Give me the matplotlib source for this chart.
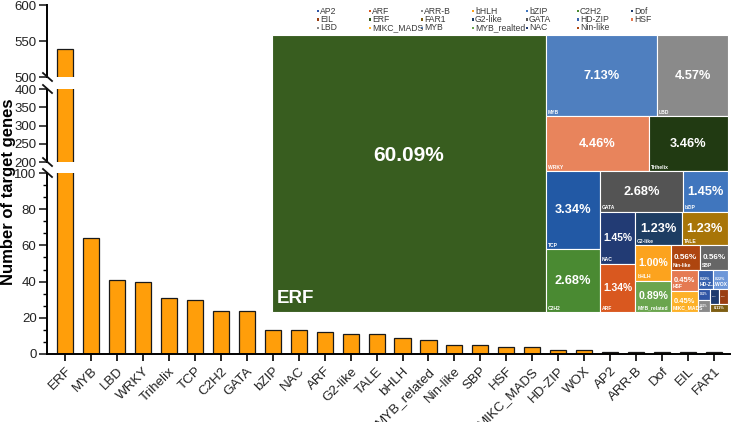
import matplotlib.pyplot as plt
import numpy as np
from matplotlib.patches import Rectangle
from matplotlib.lines import Line2D
from matplotlib.ticker import MultipleLocator, AutoMinorLocator

plt.rcParams['font.family'] = ['Liberation Sans', 'DejaVu Sans']

# --- data ---
families = ['ERF', 'MYB', 'LBD', 'WRKY', 'Trihelix', 'TCP', 'C2H2', 'GATA', 'bZIP',
            'NAC', 'ARF', 'G2-like', 'TALE', 'bHLH', 'MYB_related', 'Nin-like', 'SBP',
            'HSF', 'MIKC_MADS', 'HD-ZIP', 'WOX', 'AP2', 'ARR-B', 'Dof', 'EIL', 'FAR1']
gene_counts = [539, 64, 41, 40, 31, 30, 24, 24, 13, 13, 12, 11, 11, 9, 8, 5, 5,
               4, 4, 2, 2, 1, 1, 1, 1, 1]

tree_colors = {
    'ERF': '#385D1F', 'MYB': '#4F7FBF', 'LBD': '#8A8A8A', 'WRKY': '#E8845C',
    'Trihelix': '#213A12', 'TCP': '#2259A5', 'C2H2': '#4A8A32', 'GATA': '#545454',
    'bZIP': '#4076BE', 'NAC': '#223B74', 'ARF': '#D9581F', 'G2-like': '#1D3D63',
    'TALE': '#A87508', 'bHLH': '#FCA31E', 'MYB_related': '#6AA54E', 'Nin-like': '#AE450F',
    'SBP': '#666666', 'HSF': '#E57A52', 'MIKC_MADS': '#FDB128', 'HD-ZIP': '#3862AE',
    'WOX': '#6C96D8', 'AP2': '#2F55A5', 'ARR-B': '#8A8A8A', 'Dof': '#1E3B6E',
    'EIL': '#9A3E12', 'FAR1': '#7D5E12'}

legend_names = ['AP2', 'ARF', 'ARR-B', 'bHLH', 'bZIP', 'C2H2', 'Dof',
                'EIL', 'ERF', 'FAR1', 'G2-like', 'GATA', 'HD-ZIP', 'HSF',
                'LBD', 'MIKC_MADS', 'MYB', 'MYB_realted', 'NAC', 'Nin-like']
legend_keys = ['AP2', 'ARF', 'ARR-B', 'bHLH', 'bZIP', 'C2H2', 'Dof',
               'EIL', 'ERF', 'FAR1', 'G2-like', 'GATA', 'HD-ZIP', 'HSF',
               'LBD', 'MIKC_MADS', 'MYB', 'MYB_related', 'NAC', 'Nin-like']

W, H = 734, 422
fig = plt.figure(figsize=(W / 100, H / 100), dpi=100)


def px_axes(x0, y0, x1, y1):
    return fig.add_axes([x0 / W, 1 - y1 / H, (x1 - x0) / W, (y1 - y0) / H])


# --- broken-axis bar chart ---
segments = [((47, 173, 730, 354), (0, 100), 20),
            ((47, 89, 730, 162), (200, 400), 50),
            ((47, 5, 730, 77), (500, 600), 50)]
xpos = np.arange(len(families))
axes = []
for box, lim, step in segments:
    ax = px_axes(*box)
    ax.bar(xpos, gene_counts, width=0.62, color='#FF9E0A', edgecolor='#1a1a1a', lw=0.9)
    ax.set_ylim(*lim)
    ax.set_xlim(-0.7, 25.62)
    ax.yaxis.set_major_locator(MultipleLocator(step))
    ax.patch.set_alpha(0)
    for s in ['top', 'right']:
        ax.spines[s].set_visible(False)
    ax.spines['left'].set_linewidth(1.4)
    ax.tick_params(axis='y', labelsize=9.5, width=1.2, length=6, pad=1.5, colors='#222222')
    axes.append(ax)

ax_lo = axes[0]
ax_lo.spines['bottom'].set_linewidth(1.4)
ax_lo.yaxis.set_minor_locator(AutoMinorLocator(3))
ax_lo.tick_params(axis='y', which='minor', length=3, width=1.0)
ax_lo.set_xticks(xpos)
ax_lo.set_xticklabels(families, rotation=45, ha='right', va='top',
                      rotation_mode='anchor', fontsize=9.6, color='#222222')
ax_lo.tick_params(axis='x', width=1.2, length=5, pad=3)
for ax in axes[1:]:
    ax.spines['bottom'].set_visible(False)
    ax.set_xticks([])

# break marks on the y axis
for yb in [173, 162, 89, 77]:
    fig.add_artist(Line2D([43 / W, 52 / W], [1 - (yb - 4) / H, 1 - (yb + 4) / H],
                          color='#111111', lw=1.3))

fig.text(9 / W, 1 - 192 / H, 'Number of target genes', rotation=90, ha='center',
         va='center', fontsize=12, fontweight='bold')

# --- treemap inset ---
tx = px_axes(270, 0, 732, 314)
tx.set_xlim(270, 732)
tx.set_ylim(314, 0)
tx.axis('off')
tx.add_patch(Rectangle((270, 0), 462, 314, facecolor='white', edgecolor='none', zorder=0))


def treemap(values, x, y, w, h):
    rects = []
    i = 0
    while i < len(values):
        rest = sum(values[i:])
        n = 1 if values[i] > rest / 2 else 2
        grp = values[i:i + n]
        frac = sum(grp) / rest
        if w >= h:
            gw = w * frac
            yy = y
            for v in grp:
                gh = h * v / sum(grp)
                rects.append((x, yy, gw, gh))
                yy += gh
            x += gw
            w -= gw
        else:
            gh = h * frac
            xx = x
            for v in grp:
                gw = w * v / sum(grp)
                rects.append((xx, y, gw, gh))
                xx += gw
            y += gh
            h -= gh
        i += n
    return rects


total = sum(gene_counts)
rects = treemap(gene_counts, 272, 35, 456, 277)
for name, cnt, (x, y, w, h) in zip(families, gene_counts, rects):
    tx.add_patch(Rectangle((x, y), w, h, facecolor=tree_colors[name],
                           edgecolor='white', lw=0.8))
    pct = '%.2f%%' % (100 * cnt / total)
    if name == 'ERF':
        tx.text(x + w / 2, y + h / 2 - 18, pct, color='white', fontsize=15,
                fontweight='bold', ha='center', va='center')
        tx.text(x + 5, y + h - 5, name, color='white', fontsize=13.5,
                fontweight='bold', ha='left', va='bottom')
        continue
    fs = min(9.2, (w - 4) / 4.2, h / 2.8)
    tx.text(x + w / 2, y + h / 2, pct, color='white', fontsize=fs,
            fontweight='bold', ha='center', va='center')
    if w > 14 and h > 12:
        label = name if len(name) * 2.6 < w else name[:4] + '...'
        tx.text(x + 2, y + h - 1.5, label, color='white', fontsize=3.6,
                fontweight='bold', ha='left', va='bottom')

# legend (row-major, 7 columns)
col_x = [318, 370, 422, 473, 527, 578, 632]
row_y = [11, 19.5, 28]
for k, (lab, key) in enumerate(zip(legend_names, legend_keys)):
    cx, cy = col_x[k % 7], row_y[k // 7]
    tx.add_patch(Rectangle((cx - 1.2, cy - 1.2), 2.4, 2.4, facecolor=tree_colors[key],
                           edgecolor='none'))
    tx.text(cx + 2, cy, lab, fontsize=6.2, color='#3a3a3a', ha='left', va='center')

plt.savefig('out.png', dpi=100)
